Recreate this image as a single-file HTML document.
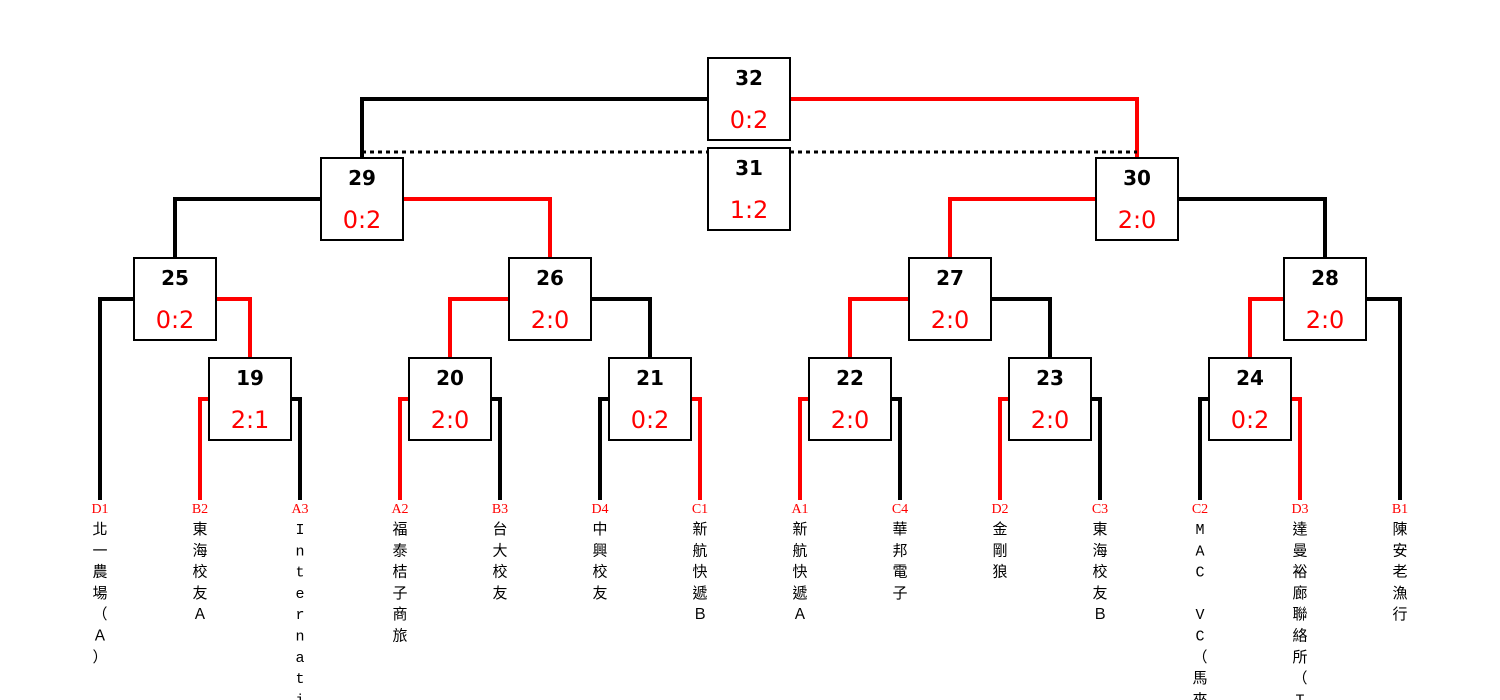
<!DOCTYPE html>
<html><head><meta charset="utf-8"><style>
html,body{margin:0;padding:0;background:#fff;width:1500px;height:700px;overflow:hidden}
svg{display:block}
.n{font-family:"DejaVu Sans","Liberation Sans",sans-serif;font-weight:bold;font-size:20px;fill:#000;text-anchor:middle}
.s{font-family:"DejaVu Sans","Liberation Sans",sans-serif;font-size:24px;fill:#f00;text-anchor:middle}
.c{font-family:"Liberation Serif",serif;font-size:14px;fill:#f00;text-anchor:middle}
.t{font-family:"Liberation Mono","Noto Sans CJK TC",monospace;font-size:15px;fill:#000;text-anchor:middle}
</style></head><body>
<svg width="1500" height="700" xmlns="http://www.w3.org/2000/svg" id="s">
<g fill="none" stroke-width="4">
<polyline stroke="#000" points="708,99 362,99 362,158"/>
<polyline stroke="#f00" points="790,99 1137,99 1137,158"/>
<line x1="362" y1="152" x2="708" y2="152" stroke="#000" stroke-width="3" stroke-dasharray="4,4"/>
<line x1="790" y1="152" x2="1137" y2="152" stroke="#000" stroke-width="3" stroke-dasharray="4,4"/>
<polyline stroke="#000" points="321,199 175,199 175,258"/>
<polyline stroke="#f00" points="403,199 550,199 550,258"/>
<polyline stroke="#f00" points="1096,199 950,199 950,258"/>
<polyline stroke="#000" points="1178,199 1325,199 1325,258"/>
<polyline stroke="#000" points="134,299 100,299 100,500"/>
<polyline stroke="#f00" points="216,299 250,299 250,358"/>
<polyline stroke="#f00" points="509,299 450,299 450,358"/>
<polyline stroke="#000" points="591,299 650,299 650,358"/>
<polyline stroke="#f00" points="909,299 850,299 850,358"/>
<polyline stroke="#000" points="991,299 1050,299 1050,358"/>
<polyline stroke="#f00" points="1284,299 1250,299 1250,358"/>
<polyline stroke="#000" points="1366,299 1400,299 1400,500"/>
<polyline stroke="#f00" points="209,399 200,399 200,500"/>
<polyline stroke="#000" points="291,399 300,399 300,500"/>
<polyline stroke="#f00" points="409,399 400,399 400,500"/>
<polyline stroke="#000" points="491,399 500,399 500,500"/>
<polyline stroke="#000" points="609,399 600,399 600,500"/>
<polyline stroke="#f00" points="691,399 700,399 700,500"/>
<polyline stroke="#f00" points="809,399 800,399 800,500"/>
<polyline stroke="#000" points="891,399 900,399 900,500"/>
<polyline stroke="#f00" points="1009,399 1000,399 1000,500"/>
<polyline stroke="#000" points="1091,399 1100,399 1100,500"/>
<polyline stroke="#000" points="1209,399 1200,399 1200,500"/>
<polyline stroke="#f00" points="1291,399 1300,399 1300,500"/>
</g>
</svg>
<script>
var s=document.getElementById('s'),NS='http://www.w3.org/2000/svg';
function el(t,a,txt){var e=document.createElementNS(NS,t);for(var k in a)e.setAttribute(k,a[k]);if(txt!=null)e.textContent=txt;s.appendChild(e);}
var B=[[32,'0:2',708,58],[31,'1:2',708,148],[29,'0:2',321,158],[30,'2:0',1096,158],[25,'0:2',134,258],[26,'2:0',509,258],[27,'2:0',909,258],[28,'2:0',1284,258],[19,'2:1',209,358],[20,'2:0',409,358],[21,'0:2',609,358],[22,'2:0',809,358],[23,'2:0',1009,358],[24,'0:2',1209,358]];
B.forEach(function(b){el('rect',{x:b[2],y:b[3],width:82,height:82,fill:'#fff',stroke:'#000','stroke-width':2});
el('text',{x:b[2]+41,y:b[3]+27,'class':'n'},b[0]);el('text',{x:b[2]+41,y:b[3]+70,'class':'s'},b[1]);});
var L=[[100,'D1','北一農場（Ａ）'],[200,'B2','東海校友Ａ'],[300,'A3','Internatio'],[400,'A2','福泰桔子商旅'],[500,'B3','台大校友'],[600,'D4','中興校友'],[700,'C1','新航快遞Ｂ'],[800,'A1','新航快遞Ａ'],[900,'C4','華邦電子'],[1000,'D2','金剛狼'],[1100,'C3','東海校友Ｂ'],[1200,'C2','MAC VC（馬來西'],[1300,'D3','達曼裕廊聯絡所（T'],[1400,'B1','陳安老漁行']];
L.forEach(function(l){el('text',{x:l[0],y:513,'class':'c'},l[1]);
Array.from(l[2]).forEach(function(ch,i){if(ch!==' ')el('text',{x:l[0],y:534+i*21.3,'class':'t'},ch);});});
</script>
</body></html>
